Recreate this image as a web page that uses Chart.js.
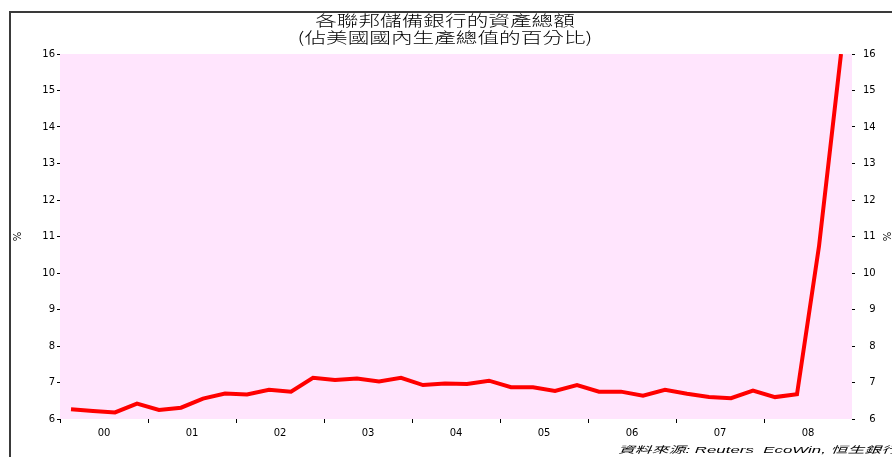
<!DOCTYPE html>
<html lang="zh-Hant">
<head>
    <meta charset="UTF-8" />
    <title>各聯邦儲備銀行的資產總額</title>
    <script src="https://cdn.jsdelivr.net/npm/chart.js"></script>
    <style>
        body { margin: 0; background: #fff; }
        canvas { display: block; }
    </style>
</head>
<body>
<canvas id="fedChart" width="892" height="457"></canvas>

<script>
    // Datos (lectura del gráfico original, trimestral 2000-2008)
    const yearLabels = ['00', '01', '02', '03', '04', '05', '06', '07', '08'];
    const assetsPctGdp = [
        6.27, 6.22, 6.18, 6.42,
        6.25, 6.31, 6.56, 6.70,
        6.67, 6.80, 6.75, 7.13,
        7.07, 7.11, 7.03, 7.13,
        6.93, 6.97, 6.96, 7.05,
        6.87, 6.87, 6.77, 6.93,
        6.75, 6.75, 6.64, 6.80,
        6.69, 6.60, 6.57, 6.78,
        6.60, 6.68, 10.73, 16.0
    ];
    const yTicks = [6, 7, 8, 9, 10, 11, 12, 13, 14, 15, 16];

    const titleLines = ['各聯邦儲備銀行的資產總額', '(佔美國國內生產總值的百分比)'];
    const sourceText = '資料來源: Reuters  EcoWin, 恒生銀行';

    const tickFont = { family: 'DejaVu Sans', size: 10 };

    // Fondo rosado, marco y textos
    const decor = {
        id: 'decor',
        beforeDraw(chart) {
            const { ctx, chartArea: a } = chart;
            ctx.save();
            ctx.fillStyle = '#ffe5fd';
            ctx.fillRect(a.left, a.top, a.right - a.left, a.bottom - a.top);
            ctx.strokeStyle = '#3a3a3a';
            ctx.lineWidth = 2;
            ctx.beginPath();
            ctx.moveTo(10, 457);
            ctx.lineTo(10, 12);
            ctx.lineTo(892, 12);
            ctx.stroke();
            ctx.restore();
        },
        afterDraw(chart) {
            const { ctx } = chart;
            ctx.save();
            ctx.fillStyle = '#000';
            ctx.textAlign = 'center';
            ctx.textBaseline = 'middle';
            ctx.font = '300 21px "Noto Sans CJK TC"';
            [20, 37].forEach((y, i) => {
                ctx.save();
                ctx.translate(445, y);
                ctx.scale(1.03, 0.72);
                ctx.fillText(titleLines[i], 0, 0);
                ctx.restore();
            });
            // Fuente
            ctx.font = 'italic 11px "Liberation Sans", "Noto Sans CJK TC"';
            ctx.textAlign = 'left';
            const w = ctx.measureText(sourceText).width;
            ctx.translate(618, 450);
            ctx.scale(280 / w, 0.85);
            ctx.fillText(sourceText, 0, 0);
            ctx.restore();
        }
    };

    const ctx = document.getElementById('fedChart').getContext('2d');
    const fedChart = new Chart(ctx, {
        type: 'line',
        data: {
            datasets: [{
                data: assetsPctGdp.map((v, i) => ({ x: i + 0.5, y: v })),
                borderColor: '#ff0000',
                borderWidth: 4,
                pointRadius: 0,
                tension: 0,
                fill: false,
                yAxisID: 'y',
                xAxisID: 'x'
            }]
        },
        options: {
            responsive: false,
            animation: false,
            layout: { padding: { top: 54, left: 0, right: 0, bottom: 0 } },
            plugins: {
                legend: { display: false },
                tooltip: { enabled: false }
            },
            scales: {
                x: {
                    type: 'linear',
                    min: 0,
                    max: yearLabels.length * 4,
                    afterBuildTicks: s => {
                        s.ticks = [];
                        for (let v = 0; v < yearLabels.length * 4; v += 2) s.ticks.push({ value: v });
                    },
                    afterFit: s => { s.height = 38; },
                    border: { display: false },
                    grid: {
                        drawOnChartArea: false,
                        tickLength: 4,
                        tickWidth: 1,
                        tickColor: c => (c.tick && c.tick.value % 4 === 0) ? '#000' : 'rgba(0,0,0,0)'
                    },
                    ticks: {
                        autoSkip: false,
                        maxRotation: 0,
                        padding: 4,
                        color: '#000',
                        font: tickFont,
                        callback: v => (v % 4 === 2) ? yearLabels[(v - 2) / 4] : ''
                    }
                },
                y: {
                    position: 'left',
                    min: 6,
                    max: 16,
                    afterBuildTicks: s => { s.ticks = yTicks.map(v => ({ value: v })); },
                    afterFit: s => { s.width = 60; },
                    border: { display: false },
                    grid: { drawOnChartArea: false, tickLength: 3, color: '#000' },
                    ticks: { padding: 2, color: '#000', font: tickFont },
                    title: { display: true, text: '%', color: '#000', font: tickFont, padding: { top: 12, bottom: 0 } }
                },
                y2: {
                    position: 'right',
                    min: 6,
                    max: 16,
                    afterBuildTicks: s => { s.ticks = yTicks.map(v => ({ value: v })); },
                    afterFit: s => { s.width = 40; },
                    border: { display: false },
                    grid: { drawOnChartArea: false, tickLength: 3, color: '#000' },
                    ticks: {
                        padding: 8,
                        color: '#000',
                        font: tickFont,
                        callback: v => (v < 10 ? '  ' : '') + v
                    },
                    title: { display: true, text: '%', color: '#000', font: tickFont, padding: { top: 0, bottom: 0 } }
                }
            }
        },
        plugins: [decor]
    });
</script>
</body>
</html>
